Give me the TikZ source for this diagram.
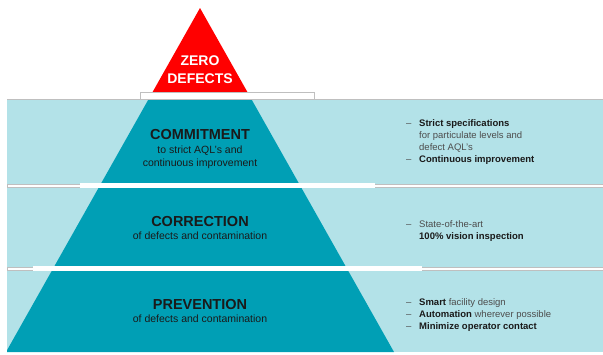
\documentclass[tikz,border=0pt]{standalone}
\usepackage{fontspec}
\setmainfont{Liberation Sans}
\definecolor{bandblue}{HTML}{B3E2E8}
\definecolor{pyrteal}{HTML}{009FB5}
\definecolor{topred}{HTML}{FF0000}
\definecolor{edgegray}{HTML}{BFBFBF}
\definecolor{textdark}{HTML}{1A1A1A}
\definecolor{textgray}{HTML}{4D4D4D}
\newcommand{\dashline}{\makebox[13pt][l]{--}}
\newcommand{\indentline}{\hspace*{13pt}}
\newcommand{\keyterm}[1]{\textbf{\color{textdark}#1}}

\begin{document}
\begin{tikzpicture}[x=1pt,y=-1pt,
    level/.style={anchor=base,font=\fontsize{14.5}{17}\selectfont\bfseries,text=textdark},
    levelsub/.style={anchor=base,align=center,font=\fontsize{10.5}{12.7}\selectfont,text=textdark},
    notes/.style={anchor=base west,align=left,inner sep=0pt,font=\fontsize{9.5}{12}\selectfont,text=textgray},
    sep/.style={draw=edgegray,line width=0.8pt,fill=white}]
  \useasboundingbox (0,0) rectangle (603,354);
  % light blue bands
  \fill[bandblue] (7,99) rectangle (603,184);
  \fill[bandblue] (7,188) rectangle (603,267);
  \fill[bandblue] (7,271) rectangle (603,352);
  % pyramid, cut into the bands
  \coordinate (apex) at (200,8);
  \begin{scope}
    \clip (7,99) rectangle (603,352);
    \fill[pyrteal] (apex) -- (6,352) -- (394,352) -- cycle;
  \end{scope}
  \fill[topred] (apex) -- (152.6,92) -- (247.4,92) -- cycle;
  % separators between the bands
  \draw[sep] (140,92) rectangle (314,99);
  \draw[edgegray,line width=0.8pt] (7,99) -- (603,99);
  \draw[sep] (7,184) rectangle (603,187.5);
  \fill[white] (80,183.4) rectangle (375,188.3);
  \draw[sep] (7,267) rectangle (603,270.5);
  \fill[white] (33,266.4) rectangle (422,271.3);

  % multi-line nodes sit on the baseline of their last line
  \node[level,align=center,text=white,font=\fontsize{14}{17.6}\selectfont\bfseries] (zero) at (200,83.3) {ZERO\\DEFECTS};

  \node[level] (commit) at (200,139.3) {COMMITMENT};
  \node[levelsub] (commitsub) at (200,166) {to strict AQL’s and\\continuous improvement};
  \node[level] (correct) at (200,226.7) {CORRECTION};
  \node[levelsub] (correctsub) at (200,239.3) {of defects and contamination};
  \node[level] (prevent) at (200,309.7) {PREVENTION};
  \node[levelsub] (preventsub) at (200,322) {of defects and contamination};

  \node[notes] (commitnotes) at (406,162.3) {\dashline\keyterm{Strict specifications}\\
    \indentline for particulate levels and\\
    \indentline defect AQL’s\\
    \dashline\keyterm{Continuous improvement}};
  \node[notes] (correctnotes) at (406,239.7) {\dashline State-of-the-art\\
    \indentline\keyterm{100\% vision inspection}};
  \node[notes] (preventnotes) at (406,329.3) {\dashline\keyterm{Smart} facility design\\
    \dashline\keyterm{Automation} wherever possible\\
    \dashline\keyterm{Minimize operator contact}};
\end{tikzpicture}
\end{document}
